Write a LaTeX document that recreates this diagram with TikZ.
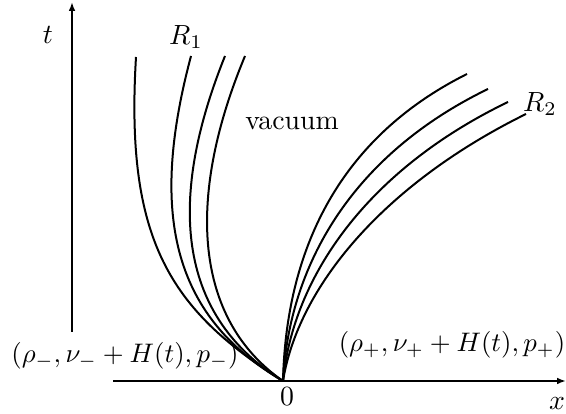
\documentclass[tikz,border=0pt]{standalone}
\usetikzlibrary{arrows.meta}
\begin{document}
\begin{tikzpicture}[x=0.36pt,y=-0.36pt,
  axis/.style={line width=0.7pt,-{Latex[length=3.2pt,width=2.4pt]}},
  wave/.style={line width=0.72pt},
  lbl/.style={inner sep=0pt},
  state/.style={inner sep=0pt,scale=0.965}]
\useasboundingbox (0,0) rectangle (566,414);
% axes
\coordinate (O) at (283,381);
\coordinate (xl) at (113,381);
\coordinate (xr) at (566,381);
\coordinate (tb) at (72,332);
\coordinate (tt) at (72,2);
\draw[axis] (xl) -- (xr);
\draw[axis] (tb) -- (tt);
% left family R1
\coordinate (L1) at (136,57);
\coordinate (L2) at (191,56);
\coordinate (L3) at (225,56);
\coordinate (L4) at (245,56);
\draw[wave] (O) .. controls (170,310) and (125,240) .. (L1);
\draw[wave] (O) .. controls (170,315) and (150,210) .. (L2);
\draw[wave] (O) .. controls (180,318) and (165,205) .. (L3);
\draw[wave] (O) .. controls (195,320) and (185,200) .. (L4);
% right family R2
\coordinate (Q1) at (467,74);
\coordinate (Q2) at (488,89);
\coordinate (Q3) at (508,102);
\coordinate (Q4) at (526,114);
\draw[wave] (O) .. controls (286,255) and (335,140) .. (Q1);
\draw[wave] (O) .. controls (289,265) and (352,155) .. (Q2);
\draw[wave] (O) .. controls (293,277) and (367,170) .. (Q3);
\draw[wave] (O) .. controls (298,288) and (382,185) .. (Q4);
% labels
\node[lbl] (tl) at (48,35) {$t$};
\node[lbl] (xlab) at (557,404) {$x$};
\node[lbl] (zero) at (287,397) {$0$};
\node[lbl] (r1) at (186,37) {$R_1$};
\node[lbl] (r2) at (540,104) {$R_2$};
\node[lbl] (vac) at (292,123) {vacuum};
\node[state] (left) at (125,356) {$(\rho_-,\nu_-+H(t),p_-)$};
\node[state] (right) at (452,345) {$(\rho_+,\nu_++H(t),p_+)$};
\end{tikzpicture}
\end{document}
